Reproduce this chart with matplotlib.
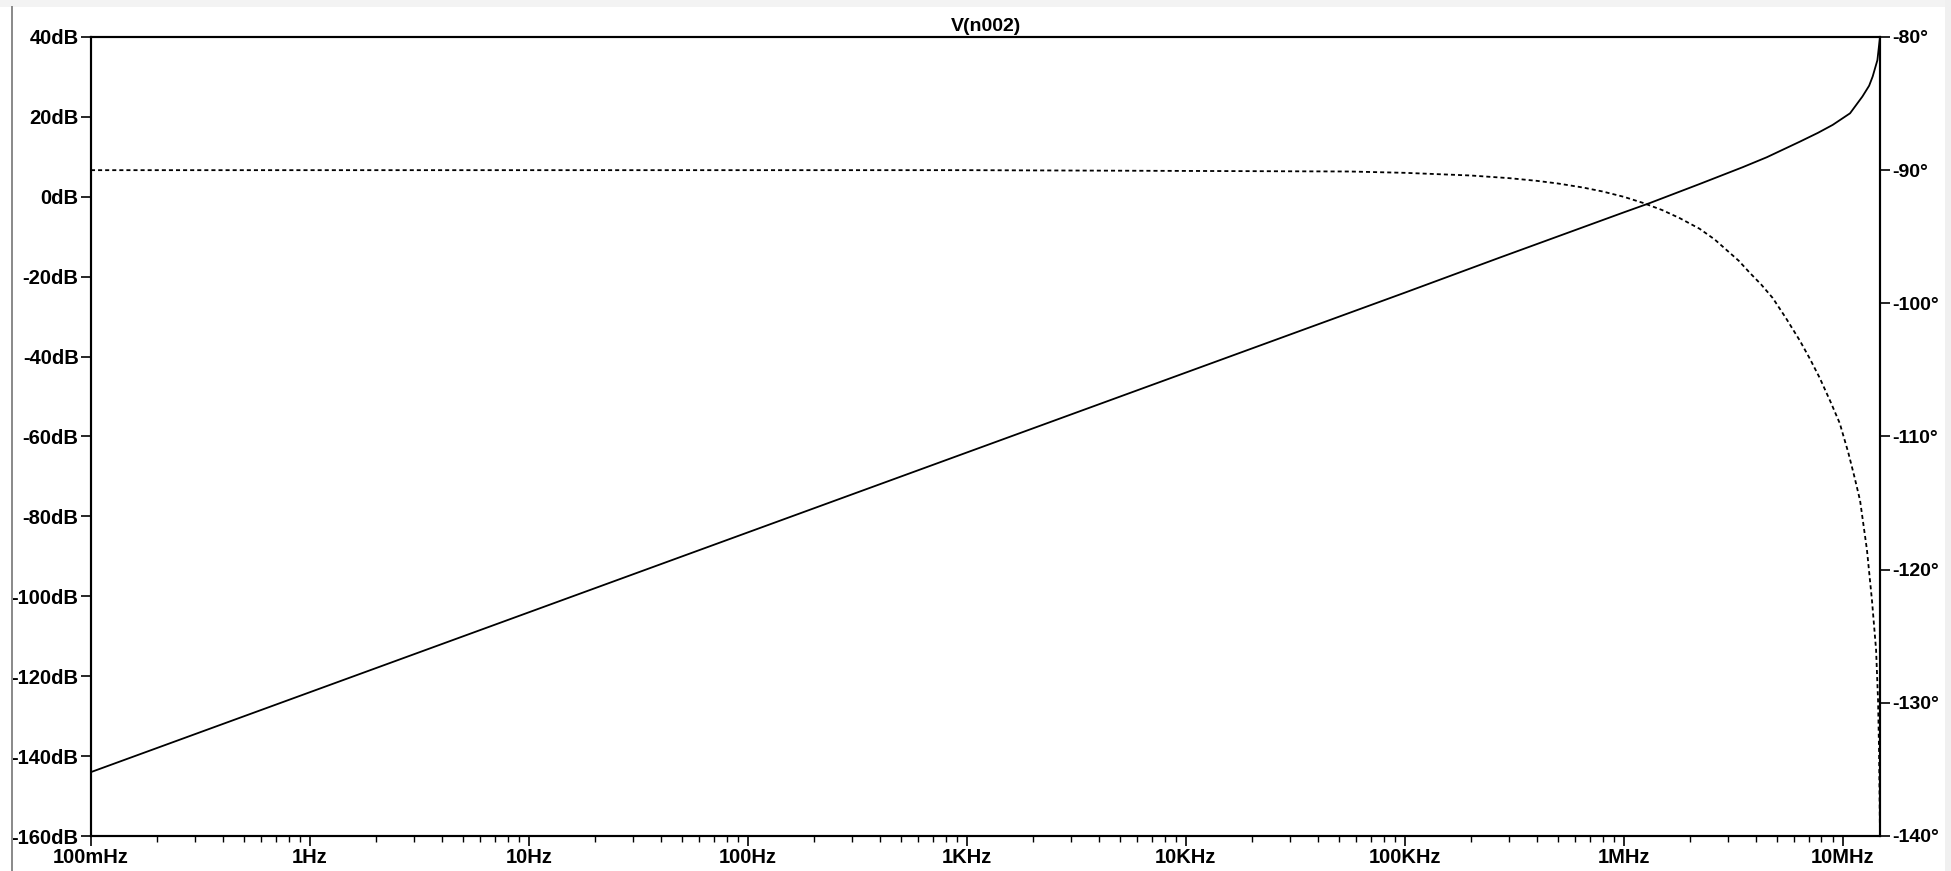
import matplotlib
matplotlib.use('Agg')
import matplotlib.pyplot as plt
from matplotlib.patches import Rectangle
from matplotlib.ticker import FixedLocator, NullFormatter, LogLocator

plt.rcParams['font.family'] = ['Liberation Sans', 'DejaVu Sans']
plt.rcParams['lines.scale_dashes'] = False

# Magnitude of V(n002) in dB
mag_freq = [0.1, 1, 10, 100, 1e3, 1e4, 1e5, 2.72e5, 1e6, 1.31e6, 2.22e6,
            3.49e6, 4.5e6, 6.37e6, 7.7e6, 9.0e6, 10.8e6, 12.3e6, 13.2e6,
            13.7e6, 14.4e6, 14.8e6]
mag_db = [-144, -124, -104, -84, -64, -44, -24, -15.2, -3.9, -1.6, 3.2,
          7.4, 9.9, 13.8, 16.0, 18.0, 20.9, 25.1, 27.8,
          30.1, 34.2, 40.0]

# Phase of V(n002) in degrees
ph_freq = [0.1, 1e3, 5.61e4, 1e5, 2e5, 3e5, 4e5, 5e5, 6.5e5, 8e5, 1e6,
           1.22e6, 1.5e6, 1.8e6, 2.22e6, 2.6e6, 2.95e6, 3.35e6, 3.76e6,
           4.25e6, 4.79e6, 5.5e6, 6.37e6, 7.1e6, 7.85e6, 8.8e6, 9.69e6,
           10.6e6, 11.3e6, 12.0e6, 12.9e6, 13.6e6, 14.2e6, 14.5e6, 14.65e6, 14.8e6]
ph_deg = [-90.0, -90.0, -90.1, -90.2, -90.4, -90.6, -90.8, -91.0, -91.3, -91.6, -92.0,
          -92.45, -93.0, -93.6, -94.4, -95.2, -96.0, -96.8, -97.7,
          -98.6, -99.6, -101.1, -102.8, -104.2, -105.6, -107.4, -109.0,
          -111.2, -113.0, -114.8, -118.5, -122.3, -126.0, -129.8, -133.5, -140.0]

# Axis ticks and labels
freq_ticks = [0.1, 1, 10, 100, 1e3, 1e4, 1e5, 1e6, 1e7]
freq_labels = ['100mHz', '1Hz', '10Hz', '100Hz', '1KHz', '10KHz', '100KHz', '1MHz', '10MHz']
db_ticks = [40, 20, 0, -20, -40, -60, -80, -100, -120, -140, -160]
deg_ticks = [-80, -90, -100, -110, -120, -130, -140]

W, H = 1951, 871
fig = plt.figure(figsize=(W / 100, H / 100), dpi=100)

# window frame bits around the plot pane
fig.patches.append(Rectangle((0, 1 - 7 / H), 1, 7 / H, transform=fig.transFigure,
                             facecolor='#f3f3f3', edgecolor='none', zorder=0))
fig.patches.append(Rectangle((1945 / W, 0), 6 / W, 1, transform=fig.transFigure,
                             facecolor='#f0f0f0', edgecolor='none', zorder=0))
fig.patches.append(Rectangle((11 / W, 0), 2.4 / W, 1 - 6 / H, transform=fig.transFigure,
                             facecolor='#8c8c8c', edgecolor='none', zorder=0))

left, right, top, bottom = 91 / W, 1880 / W, 1 - 37 / H, 1 - 836 / H
ax = fig.add_axes([left, bottom, right - left, top - bottom])
ax2 = ax.twinx()

ax.semilogx(mag_freq, mag_db, color='black', lw=1.3, solid_joinstyle='round')
ax2.semilogx(ph_freq, ph_deg, color='black', lw=1.3, dashes=(2.9, 2.2))

ax.set_xlim(0.1, 14.8e6)
ax.set_ylim(-160, 40)
ax2.set_ylim(-140, -80)

ax.xaxis.set_major_locator(FixedLocator(freq_ticks))
ax.set_xticklabels(freq_labels)
ax.xaxis.set_minor_locator(LogLocator(base=10, subs=range(2, 10), numticks=20))
ax.xaxis.set_minor_formatter(NullFormatter())

ax.set_yticks(db_ticks)
ax.set_yticklabels([f'{v}dB' for v in db_ticks])
ax2.set_yticks(deg_ticks)
ax2.set_yticklabels([f'{v}\u00b0' for v in deg_ticks])

for a in (ax, ax2):
    for s in a.spines.values():
        s.set_linewidth(1.5)
        s.set_color('black')
    a.tick_params(which='major', length=7.5, width=1.2, direction='out',
                  labelsize=14.5, pad=1.5)
    for lab in a.get_yticklabels():
        lab.set_fontweight('bold')
ax2.tick_params(axis='y', labelsize=14)
ax.tick_params(axis='x', which='minor', length=4, width=1.0, direction='out')
ax.tick_params(axis='x', which='major', labelsize=14.5, pad=1)
for lab in ax.get_xticklabels():
    lab.set_fontweight('bold')

ax.set_title('V(n002)', fontsize=14, fontweight='bold', pad=4)

fig.savefig('out.png', dpi=100)
